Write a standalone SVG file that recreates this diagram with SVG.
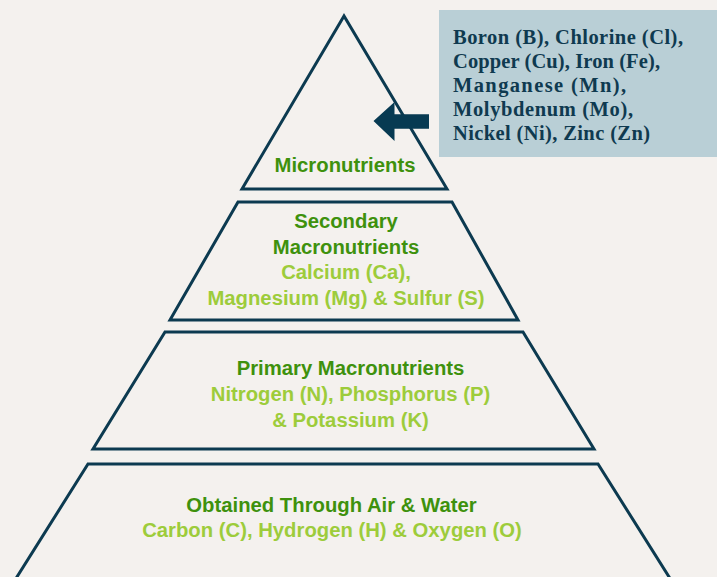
<svg xmlns="http://www.w3.org/2000/svg" width="717" height="577" viewBox="0 0 717 577">
<style>
.shape{fill:none;stroke:#0c3a50;stroke-width:3;stroke-linejoin:miter}
.t{font-family:"Liberation Sans",Arial,sans-serif;font-weight:bold;font-size:20.3px;text-anchor:middle}
.dg{fill:#3e910d}
.lg{fill:#9dcc3b}
.box{fill:#b9cfd6}
.bt{font-family:"Liberation Serif","Times New Roman",serif;font-weight:bold;font-size:20.5px;fill:#0f3a50}
.arrow{fill:#073a52}
</style>
<rect width="717" height="577" fill="#f4f1ee"/>
<g id="micronutrients">
<polygon class="shape" points="344,16 242,189 447,189"/>
<text class="t dg" x="345" y="171.5">Micronutrients</text>
</g>
<g id="secondary">
<polygon class="shape" points="238,202 452,202 518,320 170,320"/>
<text class="t dg" x="346" y="228">Secondary</text>
<text class="t dg" x="346" y="253.5">Macronutrients</text>
<text class="t lg" x="346" y="279">Calcium (Ca),</text>
<text class="t lg" x="346" y="305">Magnesium (Mg) &amp; Sulfur (S)</text>
</g>
<g id="primary">
<polygon class="shape" points="165,332 523,332 594,449 93,449"/>
<text class="t dg" x="350.5" y="375">Primary Macronutrients</text>
<text class="t lg" x="350.5" y="401">Nitrogen (N), Phosphorus (P)</text>
<text class="t lg" x="350.5" y="427">&amp; Potassium (K)</text>
</g>
<g id="air-water">
<polyline class="shape" points="15,580 88,464 598,464 671,580"/>
<text class="t dg" x="331.5" y="511.5">Obtained Through Air &amp; Water</text>
<text class="t lg" x="332" y="537">Carbon (C), Hydrogen (H) &amp; Oxygen (O)</text>
</g>
<g id="micronutrient-list">
<rect class="box" x="439" y="10" width="278" height="147"/>
<text class="bt" x="453" y="44" textLength="230" lengthAdjust="spacing">Boron (B), Chlorine (Cl),</text>
<text class="bt" x="453" y="68" textLength="207" lengthAdjust="spacing">Copper (Cu), Iron (Fe),</text>
<text class="bt" x="453" y="92" textLength="173" lengthAdjust="spacing">Manganese (Mn),</text>
<text class="bt" x="453" y="116" textLength="180" lengthAdjust="spacing">Molybdenum (Mo),</text>
<text class="bt" x="453" y="140" textLength="197" lengthAdjust="spacing">Nickel (Ni), Zinc (Zn)</text>
</g>
<g id="connectors">
<polygon class="arrow" points="373.5,121 394.5,102 394.5,114.3 429,114.3 429,128.7 394.5,128.7 394.5,141"/>
</g>
</svg>
